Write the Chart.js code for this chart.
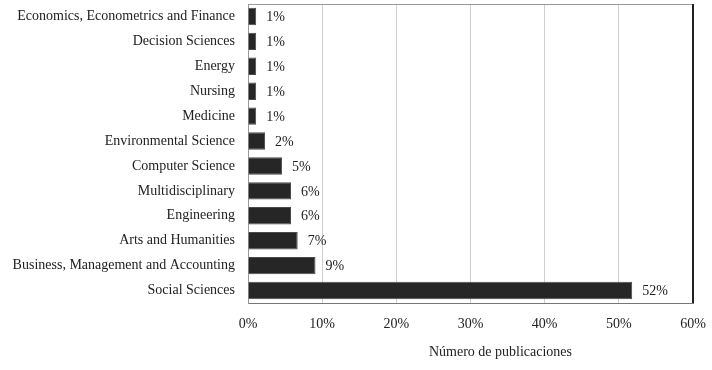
<!DOCTYPE html>
<html>
<head>
<meta charset="utf-8">
<script src="https://cdn.jsdelivr.net/npm/chart.js@4"></script>
<style>
  html, body { margin: 0; padding: 0; background: #fff; }
  #wrap { width: 712px; height: 370px; }
</style>
</head>
<body>
<div id="wrap"><canvas id="chart"></canvas></div>
<script>
// Datos
const categorias = [
    'Economics, Econometrics and Finance', 'Decision Sciences', 'Energy', 'Nursing', 'Medicine',
    'Environmental Science', 'Computer Science', 'Multidisciplinary', 'Engineering',
    'Arts and Humanities', 'Business, Management and Accounting', 'Social Sciences'
];
const porcentajes = [1.1, 1.1, 1.1, 1.1, 1.1, 2.3, 4.6, 5.8, 5.8, 6.7, 9.1, 51.8];
const etiquetas = ['1%', '1%', '1%', '1%', '1%', '2%', '5%', '6%', '6%', '7%', '9%', '52%'];
const tituloX = 'Número de publicaciones';

const FONT = "'Liberation Serif', 'DejaVu Serif', serif";

// etiquetas de valor + marco + titulo del eje
const extras = {
    id: 'extras',
    afterDatasetsDraw(chart) {
        const ctx = chart.ctx;
        const area = chart.chartArea;
        ctx.save();
        ctx.font = '14px ' + FONT;
        ctx.fillStyle = '#222';
        ctx.textBaseline = 'middle';
        ctx.textAlign = 'left';
        chart.getDatasetMeta(0).data.forEach((bar, i) => {
            ctx.fillText(etiquetas[i], bar.x + 10, bar.y + 1);
        });
        // marco
        ctx.strokeStyle = '#999';
        ctx.lineWidth = 1;
        ctx.beginPath();
        ctx.moveTo(area.left, area.top + 0.5);
        ctx.lineTo(area.right, area.top + 0.5);
        ctx.stroke();
        ctx.strokeStyle = '#222';
        ctx.lineWidth = 2;
        ctx.beginPath();
        ctx.moveTo(area.right, area.top);
        ctx.lineTo(area.right, area.bottom);
        ctx.stroke();
        // titulo eje X
        ctx.font = '14px ' + FONT;
        ctx.textAlign = 'center';
        ctx.fillText(tituloX, (area.left + area.right) / 2 + 30, 352);
        ctx.restore();
    }
};

new Chart(document.getElementById('chart'), {
    type: 'bar',
    data: {
        labels: categorias,
        datasets: [{
            data: porcentajes,
            backgroundColor: '#262626',
            borderColor: '#4a4a4a',
            borderWidth: 1,
            categoryPercentage: 1,
            barPercentage: 0.7
        }]
    },
    options: {
        indexAxis: 'y',
        responsive: true,
        maintainAspectRatio: false,
        animation: false,
        layout: { padding: { left: 0, right: 19, top: 4, bottom: 0 } },
        plugins: { legend: { display: false }, tooltip: { enabled: false } },
        scales: {
            x: {
                min: 0, max: 60,
                ticks: {
                    stepSize: 10,
                    padding: 13,
                    color: '#222',
                    font: { family: FONT, size: 14 },
                    callback: v => v + '%'
                },
                grid: { color: '#cfcfcf', drawTicks: false },
                border: { color: '#777', width: 1 },
                afterFit: s => { s.height = 67; s.paddingLeft = 0; s.paddingRight = 0; }
            },
            y: {
                ticks: {
                    padding: 13,
                    color: '#222',
                    font: { family: FONT, size: 14 }
                },
                grid: { display: false, drawTicks: false },
                border: { color: '#999', width: 1 },
                afterFit: s => { s.width = 248; s.paddingTop = 0; s.paddingBottom = 0; }
            }
        }
    },
    plugins: [extras]
});
</script>
</body>
</html>
